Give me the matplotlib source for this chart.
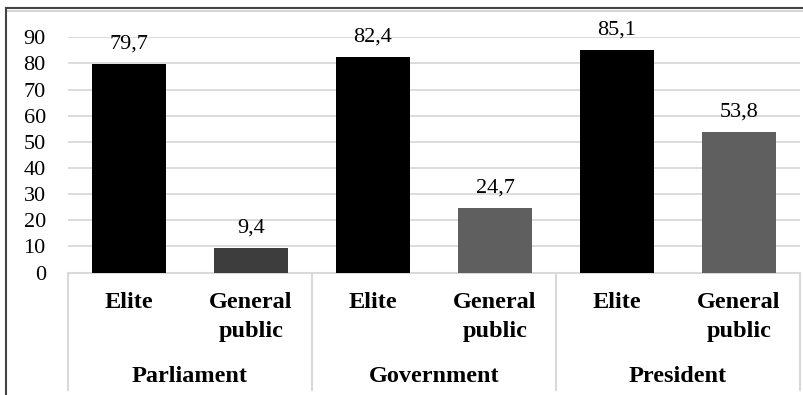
import matplotlib.pyplot as plt
from matplotlib.lines import Line2D

plt.rcParams['font.family'] = ['Liberation Serif', 'DejaVu Serif']

# Data
groups = ["Parliament", "Government", "President"]
subgroups = ["Elite", "General\npublic"]
values = [79.7, 9.4, 82.4, 24.7, 85.1, 53.8]
labels = ["79,7", "9,4", "82,4", "24,7", "85,1", "53,8"]
bar_colors = ["#000000", "#3d3d3d", "#000000", "#5f5f5f", "#000000", "#5f5f5f"]
yticks = [0, 10, 20, 30, 40, 50, 60, 70, 80, 90]

W, H = 804, 395
fig = plt.figure(figsize=(W / 100, H / 100), dpi=100)

# plot area in pixel coordinates
x0, x1 = 68, 800
y_top, y_base = 37.3, 272.5
ax = fig.add_axes([x0 / W, 1 - y_base / H, (x1 - x0) / W, (y_base - y_top) / H])

xs = list(range(len(values)))
ax.bar(xs, values, width=0.6, color=bar_colors, zorder=3)
ax.set_xlim(-0.5, len(values) - 0.5)
ax.set_ylim(0, 90)

for s in ax.spines.values():
    s.set_visible(False)
ax.set_yticks(yticks)
ax.set_yticklabels([str(t) for t in yticks], fontsize=16)
ax.tick_params(axis='y', length=0, pad=16)
ax.set_xticks([])
ax.grid(axis='y', color='#d9d9d9', linewidth=1.3, zorder=0)
ax.axhline(0, color='#d9d9d9', linewidth=1.5, zorder=2, clip_on=False)

# value labels
for x, v, lab in zip(xs, values, labels):
    ax.annotate(lab, (x, v), xytext=(0, 11), textcoords='offset points',
                ha='center', va='baseline', fontsize=16)

# two-level category axis below the plot
def ypix(p):
    return (y_base - p) / (y_base - y_top)

xt = ax.get_xaxis_transform()
for i, x in enumerate(xs):
    sub = subgroups[i % 2]
    lines = sub.split("\n")
    for j, ln in enumerate(lines):
        ax.text(x, ypix(302 + 30 * j), ln, transform=xt, ha='center', va='center',
                fontsize=17.5, fontweight='bold')

for g, name in enumerate(groups):
    ax.text(2 * g + 0.5, ypix(376), name, transform=xt, ha='center', va='center',
            fontsize=17.5, fontweight='bold')

for sx in [-0.5, 1.5, 3.5, 5.5]:
    ax.add_line(Line2D([sx, sx], [0, ypix(390)], transform=xt, color='#d9d9d9',
                       linewidth=1.5, clip_on=False))

# frame edges along the top and left
fig.add_artist(Line2D([6 / W, 1], [1 - 7.5 / H, 1 - 7.5 / H], color='#444444', linewidth=1.5))
fig.add_artist(Line2D([6 / W, 1], [1 - 10.5 / H, 1 - 10.5 / H], color='#d0d0d0', linewidth=1.3))
fig.add_artist(Line2D([6 / W, 6 / W], [0, 1 - 7.5 / H], color='#444444', linewidth=1.5))

fig.savefig("out.png", dpi=100)
